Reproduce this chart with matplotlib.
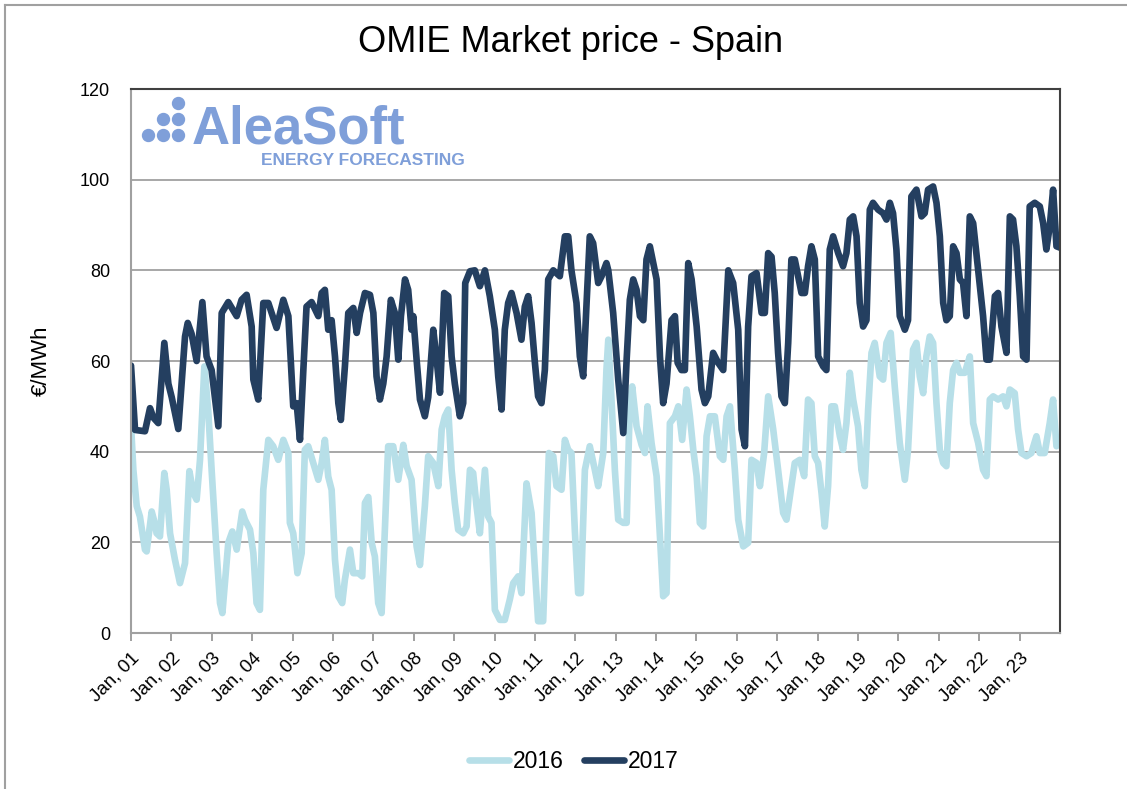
import matplotlib
matplotlib.use("Agg")
import matplotlib.pyplot as plt
from matplotlib.lines import Line2D

plt.rcParams['font.family'] = ['Liberation Sans', 'DejaVu Sans']

# DATA (hours since Jan 01 00:00, price in EUR/MWh)
hours_2016 = [0, 1.4, 3.4, 5.3, 8.3, 9.3, 12.3, 14.3, 15.2, 17.2, 19.8, 21.2, 23.2, 26.1, 29.1, 32.1,
              34.7, 37.0, 39.0, 41.0, 43.6, 45.9, 47.9, 50.9, 52.9, 54.3, 55.8, 57.8, 60.2, 62.8, 66.1,
              67.7, 70.7, 72.7, 74.6, 76.6, 78.6, 81.6, 84.5, 87.5, 90.5, 93.5,
              94.4, 96.4, 98.9, 101.4, 103.3, 105.3, 108.3, 111.3, 113.3, 115.2, 117.2, 119.2, 121.2,
              123.2, 125.5, 127.1, 130.1, 132.1, 135.1, 137.4, 139.0, 141.0, 143.0, 144.9, 146.9, 148.9,
              150.9, 152.8, 155.8, 158.8, 161.8, 163.8, 166.7, 169.7, 171.7, 174.6, 176.6, 179.6, 182.6,
              184.6, 186.5, 188.5,
              190.5, 192.4, 194.4, 197.4, 199.4, 201.4, 203.3, 205.3, 207.3, 210.3, 212.2, 214.2, 216.2,
              219.2, 222.1, 225.1, 227.1, 230.1, 232.0, 235.0, 238.0, 240.0, 241.9, 244.9, 246.9, 248.3,
              250.9, 252.8, 255.8, 257.8, 259.8, 261.7, 263.7, 265.7, 267.3, 269.7, 272.6, 275.6, 277.6,
              280.6, 282.5, 283.6,
              285.6, 287.5, 289.5, 292.5, 294.5, 296.4, 297.8, 300.4, 303.4, 305.4, 306.9, 309.3, 312.3,
              314.3, 316.2, 318.2, 320.2, 323.2, 325.2, 327.5, 330.1, 332.1, 334.1, 336.1, 338.0, 340.0,
              342.0, 344.0, 346.9, 349.9, 351.9, 353.9, 355.9, 358.8, 360.8, 363.8, 366.7, 368.7, 371.7,
              373.7, 376.2, 378.6,
              381.6, 384.5, 387.5, 389.5, 392.4, 394.4, 397.4, 400.0, 402.3, 404.3, 406.3, 408.3, 410.3,
              412.2, 414.2, 416.2, 418.2, 421.2, 423.1, 425.1, 427.1, 429.1, 432.0, 434.0, 436.0, 438.0,
              440.0, 441.9, 444.9, 446.9, 448.9, 451.4, 453.8, 456.8, 459.8, 461.7, 464.7, 466.7, 468.7,
              470.7, 472.6, 474.6,
              476.6, 478.6, 480.6, 482.6, 484.5, 486.5, 488.5, 490.5, 492.5, 495.4, 498.4, 500.4, 503.4,
              506.3, 508.3, 510.3, 512.3, 515.2, 518.2, 520.2, 522.2, 525.1, 527.1, 529.1, 532.1, 535.0,
              538.0, 540.0, 542.9, 545.9, 547.9, 549.9]
price_2016 = [46, 36, 28, 25.7, 18.4, 18, 26.8, 24, 22, 21.3, 35.3, 31.6, 22, 16.2, 11, 15.4,
              35.7, 30.9, 29.4, 38.2, 58.8, 49, 36, 17.6, 6.6, 4.4, 11, 19.9, 22.4, 18.4, 26.8,
              25, 22.8, 17.6, 6.6, 5.1, 31.6, 42.6, 41.2, 38.2, 42.6, 39.7,
              24.3, 22, 13.2, 17.6, 40.4, 41.2, 37.5, 33.8, 37.5, 42.6, 34.5, 31.6, 16.2,
              8.1, 6.6, 11.8, 18.4, 13.2, 13.2, 12.5, 28.7, 30, 19.9, 16.9, 6.6, 4.4,
              23.5, 41.2, 41.2, 33.8, 41.5, 36.8, 33.8, 19.1, 15, 28, 39, 37.5, 32.4,
              44.9, 47.8, 49.3,
              36, 28.7, 22.8, 22, 23.5, 36, 35.3, 28, 22, 36, 25.7, 24.3, 5.1,
              2.9, 2.9, 7.4, 11, 12.5, 8.8, 33, 26.5, 14, 2.6, 2.6, 25, 39.7,
              39, 32.4, 31.6, 42.6, 40.4, 39.7, 22.8, 8.8, 8.8, 36, 41.2, 36, 32.4,
              39.7, 58, 64.7,
              50.7, 36, 25, 24.3, 24.3, 50.7, 54.4, 45.6, 41.5, 39.7, 50, 41.9, 34.6,
              21.3, 8.1, 8.8, 46.3, 47.8, 50, 42.6, 53.7, 47.8, 40.4, 34.6, 24.3, 23.5,
              43.4, 47.8, 47.8, 39, 38.2, 47.8, 50, 36, 25, 19.1, 19.9, 38.2, 37.5,
              32.4, 39.7, 52.2,
              44.9, 36, 26.5, 25, 32.4, 37.5, 38.2, 34.6, 51.5, 50.7, 39, 37.5, 30.9,
              23.5, 32.4, 50, 50, 43.4, 40.4, 46.3, 57.4, 51.5, 45.6, 36, 32.4, 49.3,
              61.8, 64, 56.6, 55.9, 64, 66.2, 54.4, 41.9, 33.8, 40.4, 62.5, 64, 56.6,
              52.9, 61, 65.4,
              64, 50.7, 40.4, 37.5, 36.8, 50.7, 58, 59.6, 57.4, 57.4, 61, 46.3, 41.9,
              36, 34.6, 51.5, 52.2, 51.5, 52.2, 50, 53.7, 52.9, 44.9, 39.7, 39, 39.7,
              43.4, 39.7, 39.7, 46.3, 51.5, 41.2]

hours_2017 = [0, 2.4, 8.3, 11.3, 13.3, 16.2, 19.8, 22.2, 24.2, 28.1, 32.1, 33.7, 36.0, 39.0, 42.4,
              44.9, 47.9, 51.9, 53.9, 57.8, 62.8, 65.7, 68.7, 71.7, 72.7, 75.6, 78.6, 81.6, 86.5, 90.5,
              93.5, 95.4, 96.4, 98.4, 100.4, 102.4, 104.3, 107.3, 111.3, 113.3, 115.2, 117.2, 119.2,
              121.2, 123.2, 124.7, 127.1, 129.1, 132.1, 134.1, 136.1, 139.0, 142.0, 144.0, 145.9, 147.9,
              149.9, 151.9, 154.4, 156.8, 158.8, 160.4, 162.8, 164.7, 166.7, 167.7, 169.7, 171.7, 174.6,
              176.6, 179.6, 181.6, 183.6, 186.1, 188.5,
              190.5, 192.4, 195.4, 197.4, 198.6, 201.4, 204.3, 207.3, 210.3, 213.2, 216.2, 218.2, 220.2,
              222.1, 224.1, 226.1, 229.1, 232.0, 234.0, 236.0, 238.0, 240.0, 241.9, 243.9, 245.9, 247.9,
              250.9, 254.8, 257.8, 259.8, 261.7, 264.7, 266.7, 268.7, 270.7, 272.6, 274.6, 277.6, 279.6,
              282.5,
              283.6, 286.5, 289.5, 292.5, 294.5, 296.4, 298.4, 300.4, 302.4, 304.4, 306.3, 308.3, 310.3,
              312.3, 314.3, 316.2, 318.2, 321.2, 323.2, 324.8, 327.1, 329.1, 331.1, 333.1, 336.1, 339.0,
              341.0, 343.0, 345.9, 348.9, 351.9, 354.9, 357.8, 360.8, 362.8, 364.8, 366.7, 368.7, 371.7,
              374.7, 376.6, 378.6,
              380.6, 382.5, 384.5, 386.5, 388.5, 390.5, 392.4, 394.4, 396.4, 398.4, 400.4, 402.3, 404.3,
              406.3, 408.3, 411.3, 413.2, 415.2, 417.2, 420.2, 423.1, 425.1, 427.1, 429.1, 431.1, 433.0,
              435.0, 437.0, 439.0, 440.9, 443.9, 446.9, 448.9, 450.9, 452.8, 454.8, 456.8, 459.8, 461.7,
              463.7, 466.7, 469.7, 471.6, 473.6,
              476.6, 478.6, 480.6, 482.6, 484.5, 486.5, 488.5, 490.5, 492.5, 494.4, 496.4, 498.4, 500.4,
              503.4, 506.3, 508.3, 510.3, 513.3, 515.2, 517.2, 520.2, 522.2, 524.1, 526.1, 528.1, 530.1,
              532.1, 534.0, 537.0, 540.0, 542.0, 543.9, 545.9, 547.9, 549.9, 552]
price_2017 = [59, 44.8, 44.5, 49.6, 47.5, 46.3, 64, 55, 52, 45, 65.4, 68.4, 66, 60, 73,
              61, 58, 45.6, 70.6, 73, 69.9, 73.5, 74.6, 67.6, 55.9, 51.5, 72.8, 72.8, 67.3, 73.5,
              69.9, 56.6, 50, 50.7, 42.6, 58, 72, 73, 69.9, 75, 75.7, 66.9, 69,
              61, 50.7, 47, 58.8, 70.6, 71.7, 66.2, 70.6, 75, 74.6, 70.6, 56.6, 51.5,
              55, 61, 73.5, 70.6, 60.3, 69.9, 78, 75.7, 66.9, 69.9, 60.3, 51.5, 47.8,
              52, 66.9, 60.3, 53, 75, 74.3,
              61, 55, 47.8, 50.7, 77.2, 79.8, 80, 76.5, 80, 74.3, 66.9, 56.6, 49.3,
              66.9, 72.8, 75, 70.6, 64.7, 72, 74.3, 68.4, 59.6, 52.2, 50.7, 58, 78,
              80, 78.7, 87.5, 87.5, 80, 72.8, 61, 56.6, 72.8, 87.5, 86, 77.2, 78.7,
              81.6,
              80, 70.6, 55.9, 44.1, 60.3, 73.5, 78, 75.7, 69.9, 69, 82.4, 85.3, 81.6,
              78, 61, 50.7, 55, 69, 69.9, 59.6, 58, 58, 81.6, 78, 67.6, 53.7,
              50.7, 52.2, 61.8, 59.6, 58, 80, 77.2, 66.9, 44.9, 41.2, 67.6, 78.7, 79.4,
              70.6, 70.6, 83.8,
              83, 75, 61.8, 52.2, 50.7, 64, 82.4, 82.4, 78.7, 75, 75, 80.9, 85.3,
              82.4, 61, 58.8, 58, 84.6, 87.5, 83.8, 80.9, 83.8, 91.2, 91.9, 87.5, 72.8,
              67.6, 69, 93.4, 94.9, 93.4, 92.6, 91.2, 94.9, 92.6, 84.6, 69.9, 66.9, 69,
              96.3, 97.8, 91.9, 92.6, 97.8,
              98.5, 94.9, 87.5, 72.8, 69, 69.9, 85.3, 83.8, 78, 77.2, 69.9, 91.9, 90.4,
              80, 69.9, 60.3, 60.3, 74.3, 75, 67.6, 61.8, 91.9, 91.2, 85.3, 74.3, 61,
              60.3, 94.1, 94.9, 94.1, 90.4, 84.6, 89.7, 97.8, 85.3, 85]

day_labels = ["Jan, %02d" % d for d in range(1, 24)]
years = ["2016", "2017"]

# PLOT
fig = plt.figure(figsize=(11.27, 7.89), dpi=100)
ax = fig.add_axes([131 / 1127, 1 - 633 / 789, 929 / 1127, 544 / 789])

ax.plot(hours_2016, price_2016, color="#b7dfe8", lw=4.8, solid_joinstyle="round",
        solid_capstyle="round", label=years[0])
ax.plot(hours_2017, price_2017, color="#243f60", lw=4.8, solid_joinstyle="round",
        solid_capstyle="round", label=years[1])

ax.set_xlim(0, 552)
ax.set_ylim(0, 120)
ax.set_yticks(range(0, 121, 20))
ax.set_xticks([24 * i for i in range(len(day_labels))])
ax.set_xticklabels(day_labels, rotation=45, ha="right", rotation_mode="anchor", fontsize=13.5)
ax.tick_params(axis="y", length=0, pad=15, labelsize=13)
ax.tick_params(axis="x", length=6, width=1.2, color="#909090", direction="out", pad=6)
ax.grid(axis="y", color="#a0a0a0", lw=1.3)
ax.set_axisbelow(True)
for side in ["left", "bottom"]:
    ax.spines[side].set_color("#a0a0a0")
    ax.spines[side].set_linewidth(1.5)
for side in ["top", "right"]:
    ax.spines[side].set_color("#404040")
    ax.spines[side].set_linewidth(1.5)

ax.set_ylabel("€/MWh", fontsize=16, labelpad=20)
fig.text(571 / 1127, 1 - 42 / 789, "OMIE Market price - Spain", fontsize=26, ha="center", va="center")

ax.legend(loc="center", bbox_to_anchor=(574 / 1127, 1 - 762 / 789), bbox_transform=fig.transFigure,
          ncol=2, frameon=False, fontsize=16.5, handlelength=1.75, handletextpad=0.15,
          columnspacing=0.9)

# logo
logo = "#7f9fd9"
dot_x = [177.7, 163.3, 177.7, 148.3, 163.3, 177.7]
dot_y = [102.7, 119.3, 119.3, 135.3, 135.3, 135.3]
fig.add_artist(Line2D([x / 1127 for x in dot_x], [1 - y / 789 for y in dot_y], ls="none",
                      marker="o", markersize=8.6, color=logo, transform=fig.transFigure))
fig.text(192 / 1127, 1 - 144 / 789, "AleaSoft", fontsize=38, fontweight="bold", color=logo,
         ha="left", va="baseline")
fig.text(465 / 1127, 1 - 165 / 789, "ENERGY FORECASTING", fontsize=12.5, fontweight="bold", color=logo,
         ha="right", va="baseline")

# outer frame (top and left edges)
fig.add_artist(Line2D([5 / 1127, 1], [1 - 5 / 789, 1 - 5 / 789], color="#a0a0a0", lw=1.5,
                      transform=fig.transFigure))
fig.add_artist(Line2D([5 / 1127, 5 / 1127], [0, 1 - 5 / 789], color="#a0a0a0", lw=1.5,
                      transform=fig.transFigure))

fig.savefig("out.png", dpi=100)
